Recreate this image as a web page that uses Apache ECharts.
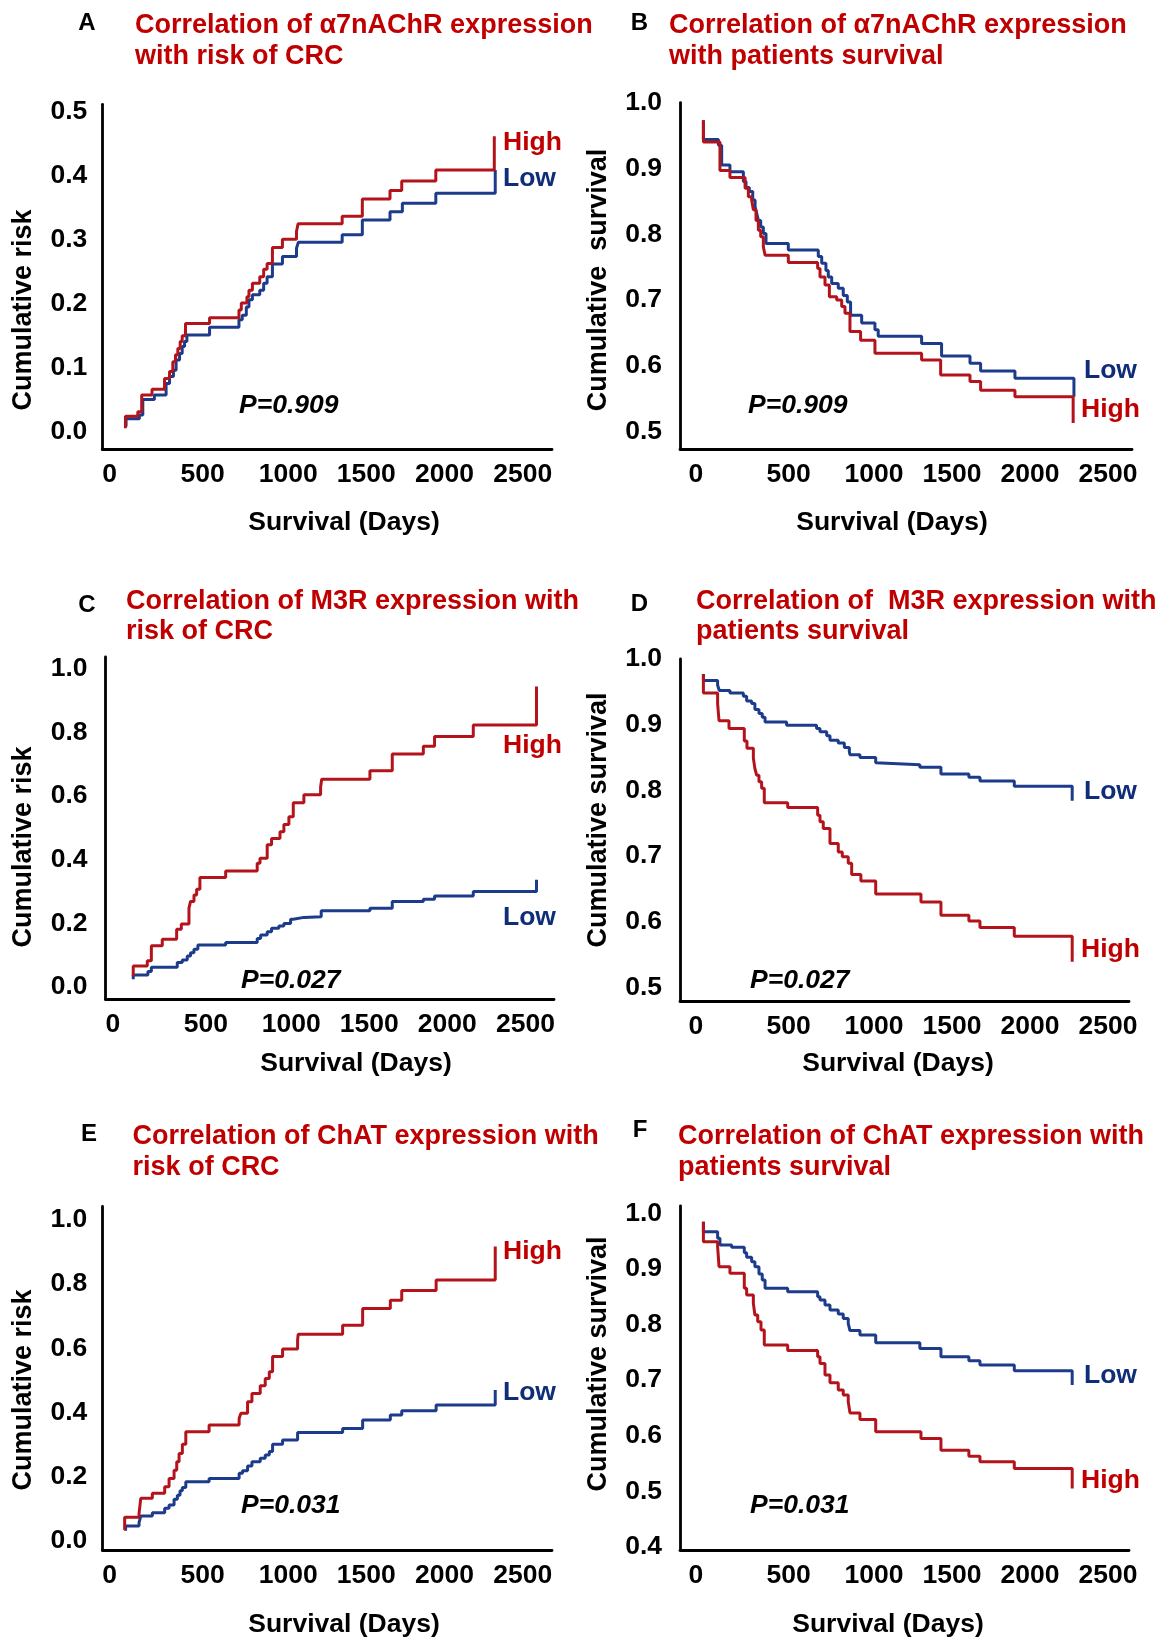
<!DOCTYPE html>
<html><head><meta charset="utf-8">
<script src="https://cdn.jsdelivr.net/npm/echarts@6/dist/echarts.min.js"></script>
<style>html,body{margin:0;padding:0;background:#fff}#c{width:1162px;height:1641px}</style>
</head><body><div id="c"></div>
<script>
// ---------- data ----------
const xTicks = [0, 500, 1000, 1500, 2000, 2500];
const yTicksRiskA = [0, 0.1, 0.2, 0.3, 0.4, 0.5];
const yTicksRisk = [0, 0.2, 0.4, 0.6, 0.8, 1.0];
const yTicksSurv = [0.5, 0.6, 0.7, 0.8, 0.9, 1.0];
const yTicksSurvF = [0.4, 0.5, 0.6, 0.7, 0.8, 0.9, 1.0];

// [day, value] step points (Kaplan–Meier style)
const A_high = [[148,0.005],[148,0.024],[227,0.031],[252,0.057],[318,0.066],[398,0.083],[430,0.094],[451,0.109],[468,0.120],[483,0.130],[498,0.141],[511,0.150],[532,0.169],[686,0.178],[874,0.190],[889,0.201],[925,0.211],[938,0.221],[960,0.232],[1007,0.242],[1032,0.254],[1054,0.263],[1088,0.288],[1152,0.301],[1242,0.313],[1252,0.325],[1534,0.337],[1663,0.364],[1840,0.377],[1915,0.392],[2133,0.409],[2507,0.462]];
const A_low = [[152,0.008],[152,0.020],[237,0.026],[259,0.050],[333,0.057],[408,0.075],[430,0.086],[455,0.096],[472,0.112],[494,0.122],[511,0.133],[526,0.141],[541,0.151],[686,0.163],[874,0.175],[895,0.182],[921,0.195],[938,0.206],[960,0.214],[1007,0.221],[1032,0.232],[1054,0.242],[1088,0.262],[1152,0.274],[1242,0.287],[1254,0.296],[1534,0.308],[1663,0.331],[1840,0.344],[1919,0.357],[2133,0.373],[2513,0.409]];

const B_high = [[96,0.973],[96,0.940],[202,0.897],[266,0.886],[363,0.870],[384,0.857],[405,0.852],[416,0.837],[433,0.821],[448,0.806],[463,0.796],[480,0.781],[491,0.768],[640,0.757],[828,0.748],[843,0.735],[875,0.723],[903,0.705],[950,0.700],[982,0.690],[1003,0.680],[1035,0.652],[1103,0.639],[1195,0.619],[1494,0.609],[1616,0.586],[1804,0.576],[1872,0.563],[2092,0.553],[2465,0.513]];
const B_low = [[96,0.973],[96,0.944],[192,0.935],[213,0.905],[266,0.895],[352,0.880],[369,0.871],[390,0.865],[412,0.852],[427,0.842],[437,0.832],[448,0.821],[463,0.811],[480,0.801],[497,0.786],[640,0.776],[832,0.766],[854,0.756],[881,0.745],[896,0.735],[918,0.725],[960,0.718],[992,0.707],[1018,0.697],[1039,0.677],[1110,0.665],[1195,0.655],[1216,0.645],[1494,0.634],[1622,0.615],[1804,0.604],[1872,0.592],[2092,0.581],[2470,0.553]];

const C_high = [[177,0.035],[177,0.066],[267,0.083],[293,0.130],[363,0.150],[455,0.182],[485,0.198],[534,0.248],[544,0.269],[566,0.289],[583,0.307],[604,0.344],[769,0.365],[971,0.389],[989,0.405],[1035,0.447],[1063,0.467],[1117,0.488],[1142,0.511],[1174,0.535],[1202,0.579],[1270,0.604],[1377,0.628],[1384,0.653],[1693,0.680],[1836,0.732],[2035,0.757],[2107,0.787],[2355,0.823],[2760,0.944]];
const C_low = [[177,0.025],[177,0.038],[271,0.049],[293,0.062],[459,0.077],[491,0.085],[523,0.098],[544,0.108],[566,0.119],[591,0.132],[769,0.140],[971,0.153],[993,0.164],[1035,0.174],[1063,0.185],[1110,0.192],[1142,0.200],[1185,0.213],[1202,0.219],[1270,0.221],[1381,0.240],[1693,0.248],[1836,0.269],[2035,0.276],[2107,0.286],[2355,0.300],[2760,0.337]];

const D_high = [[96,0.977],[96,0.948],[187,0.932],[196,0.906],[260,0.894],[358,0.875],[375,0.864],[416,0.849],[426,0.833],[437,0.823],[452,0.813],[469,0.803],[486,0.781],[636,0.774],[828,0.762],[843,0.752],[864,0.742],[907,0.719],[960,0.706],[986,0.699],[1024,0.689],[1046,0.672],[1105,0.662],[1200,0.642],[1490,0.630],[1618,0.610],[1797,0.601],[1868,0.591],[2088,0.578],[2459,0.539]];
const D_low = [[96,0.977],[96,0.967],[187,0.960],[198,0.952],[266,0.948],[352,0.943],[373,0.936],[405,0.932],[426,0.923],[452,0.917],[473,0.911],[491,0.904],[629,0.899],[821,0.894],[843,0.889],[886,0.883],[907,0.876],[960,0.872],[999,0.865],[1031,0.859],[1035,0.854],[1099,0.850],[1200,0.842],[1206,0.839],[1483,0.835],[1618,0.825],[1797,0.820],[1868,0.814],[2088,0.806],[2459,0.784]];

const E_high = [[143,0.033],[143,0.073],[235,0.085],[246,0.132],[320,0.148],[399,0.168],[427,0.194],[459,0.220],[476,0.246],[491,0.272],[512,0.301],[534,0.340],[683,0.361],[875,0.381],[886,0.397],[929,0.433],[957,0.459],[1010,0.483],[1042,0.506],[1068,0.527],[1089,0.574],[1153,0.598],[1249,0.626],[1253,0.644],[1537,0.672],[1665,0.724],[1842,0.750],[1915,0.780],[2135,0.813],[2513,0.917]];
const E_low = [[149,0.031],[149,0.046],[235,0.056],[246,0.077],[320,0.087],[399,0.101],[427,0.111],[459,0.129],[480,0.142],[497,0.156],[512,0.166],[534,0.184],[683,0.194],[875,0.210],[897,0.218],[929,0.233],[957,0.246],[1010,0.257],[1042,0.267],[1068,0.278],[1089,0.301],[1153,0.314],[1249,0.337],[1537,0.350],[1665,0.376],[1842,0.392],[1915,0.405],[2135,0.423],[2513,0.470]];

const F_high = [[96,0.985],[96,0.949],[187,0.940],[196,0.904],[266,0.892],[358,0.865],[373,0.853],[416,0.838],[426,0.817],[444,0.805],[465,0.790],[486,0.763],[636,0.753],[828,0.742],[843,0.730],[875,0.709],[907,0.695],[960,0.682],[992,0.673],[1024,0.661],[1035,0.641],[1099,0.629],[1200,0.607],[1490,0.595],[1618,0.574],[1797,0.563],[1868,0.553],[2088,0.541],[2459,0.505]];
const F_low = [[96,0.985],[96,0.967],[187,0.955],[202,0.943],[277,0.939],[358,0.929],[373,0.921],[405,0.913],[426,0.904],[452,0.891],[473,0.880],[491,0.865],[636,0.859],[828,0.850],[843,0.844],[875,0.835],[907,0.826],[960,0.819],[992,0.811],[1024,0.802],[1035,0.789],[1099,0.781],[1200,0.767],[1483,0.757],[1618,0.742],[1797,0.735],[1868,0.727],[2088,0.717],[2459,0.691]];

const titles = [
  ['Correlation of \u03b17nAChR expression', 'with risk of CRC'],
  ['Correlation of \u03b17nAChR expression', 'with patients survival'],
  ['Correlation of M3R expression with', 'risk of CRC'],
  ['Correlation of  M3R expression with', 'patients survival'],
  ['Correlation of ChAT expression with', 'risk of CRC'],
  ['Correlation of ChAT expression with', 'patients survival']
];
const letters = ['A', 'B', 'C', 'D', 'E', 'F'];
const yNames = ['Cumulative risk', 'Cumulative  survival', 'Cumulative risk', 'Cumulative survival', 'Cumulative risk', 'Cumulative survival'];
const xName = 'Survival (Days)';
const pValues = ['P=0.909', 'P=0.909', 'P=0.027', 'P=0.027', 'P=0.031', 'P=0.031'];

// ---------- layout / style ----------
const FONT = '"Liberation Sans", Arial, Helvetica, sans-serif';
const RED_LINE = '#b3141c', BLUE_LINE = '#1d3b8b', RED_TXT = '#c00000', BLUE_TXT = '#0f2d78';
const TICK_SIZE = 26.5;

const panels = [
  {grid:{left:102.3, top:104.3, width:449.7, height:345.1}, x:[0,2876], y:[-0.028,0.512], yTicks:yTicksRiskA, yMargin:15, high:A_high, low:A_low,
   letter:[87,23], title:[135,26,57], yName:[24,310], xNameP:[344,523], p:[239,406], hi:[503,143], lo:[503,179]},
  {grid:{left:680, top:102.6, width:452, height:346.8}, x:[-54,2842], y:[0.473,1.0], yTicks:yTicksSurv, yMargin:18, high:B_high, low:B_low,
   letter:[639.5,23], title:[669,26,57], yName:[599,280], xNameP:[892,523], p:[748,406], hi:[1081,410], lo:[1084,371]},
  {grid:{left:105.6, top:657, width:448.4, height:342.5}, x:[0,2872], y:[-0.039,1.037], yTicks:yTicksRisk, yMargin:18, high:C_high, low:C_low,
   letter:[87,605], title:[126,601.5,632], yName:[24,847], xNameP:[356,1064], p:[241,981], hi:[503,746], lo:[503,918]},
  {grid:{left:680, top:658.9, width:449, height:342.3}, x:[-54,2823], y:[0.479,1.0], yTicks:yTicksSurv, yMargin:18, high:D_high, low:D_low,
   letter:[639.5,604], title:[696,601.5,632], yName:[599,820], xNameP:[898,1064], p:[750,981], hi:[1081,950], lo:[1084,792]},
  {grid:{left:102.3, top:1206.5, width:449.7, height:343.7}, x:[0,2876], y:[-0.0296,1.042], yTicks:yTicksRisk, yMargin:15, high:E_high, low:E_low,
   letter:[89,1134], title:[132.6,1137,1168], yName:[24,1390], xNameP:[344,1625], p:[241,1506], hi:[503,1252], lo:[503,1393]},
  {grid:{left:680, top:1205.8, width:449, height:344.4}, x:[-54,2823], y:[0.394,1.0135], yTicks:yTicksSurvF, yMargin:18, high:F_high, low:F_low,
   letter:[640,1130], title:[678,1137,1168], yName:[599,1364], xNameP:[888,1625], p:[750,1506], hi:[1081,1481], lo:[1084,1376]}
];

const grids = [], xAxes = [], yAxes = [], series = [], graphics = [];
const axisLine = {show:true, onZero:false, lineStyle:{color:'#000', width:2.8}};

function txt(text, x, y, font, fill, align, rotation) {
  const el = {type:'text', x:x, y:y, silent:true,
    style:{text:text, font:font, fill:fill, align:align || 'left', verticalAlign:'middle',
           textAlign:align || 'left', textVerticalAlign:'middle'}};
  if (rotation) el.rotation = rotation;
  return el;
}

panels.forEach((p, i) => {
  grids.push(Object.assign({containLabel:false}, p.grid));
  xAxes.push({type:'value', gridIndex:i, min:p.x[0], max:p.x[1],
    axisLine:axisLine, axisTick:{show:false}, splitLine:{show:false},
    axisLabel:{customValues:xTicks, align:'left', margin:12, color:'#000',
      fontFamily:FONT, fontWeight:'bold', fontSize:TICK_SIZE, formatter:v => String(v)}});
  yAxes.push({type:'value', gridIndex:i, min:p.y[0], max:p.y[1],
    axisLine:axisLine, axisTick:{show:false}, splitLine:{show:false},
    axisLabel:{customValues:p.yTicks, margin:p.yMargin, color:'#000',
      fontFamily:FONT, fontWeight:'bold', fontSize:TICK_SIZE, formatter:v => v.toFixed(1)}});
  [[p.low, BLUE_LINE, 'Low'], [p.high, RED_LINE, 'High']].forEach(([d, c, n]) => {
    series.push({type:'line', name:n, xAxisIndex:i, yAxisIndex:i, data:d, step:'end',
      symbol:'none', showSymbol:false, animation:false, silent:true,
      lineStyle:{color:c, width:3}, itemStyle:{color:c}});
  });
  graphics.push(txt(letters[i], p.letter[0], p.letter[1], 'bold 24px ' + FONT, '#000', 'center'));
  graphics.push(txt(titles[i][0], p.title[0], p.title[1], 'bold 27px ' + FONT, RED_TXT));
  graphics.push(txt(titles[i][1], p.title[0], p.title[2], 'bold 27px ' + FONT, RED_TXT));
  graphics.push(txt(yNames[i], p.yName[0], p.yName[1], 'bold 27px ' + FONT, '#000', 'center', Math.PI / 2));
  graphics.push(txt(xName, p.xNameP[0], p.xNameP[1], 'bold 26.5px ' + FONT, '#000', 'center'));
  graphics.push(txt(pValues[i], p.p[0], p.p[1], 'italic bold 26.5px ' + FONT, '#000'));
  graphics.push(txt('High', p.hi[0], p.hi[1], 'bold 26.5px ' + FONT, RED_TXT));
  graphics.push(txt('Low', p.lo[0], p.lo[1], 'bold 26.5px ' + FONT, BLUE_TXT));
});

const chart = echarts.init(document.getElementById('c'), null, {renderer:'canvas'});
chart.setOption({
  backgroundColor:'#fff',
  animation:false,
  grid:grids, xAxis:xAxes, yAxis:yAxes, series:series,
  graphic:{elements:graphics}
});
</script>
</body></html>
